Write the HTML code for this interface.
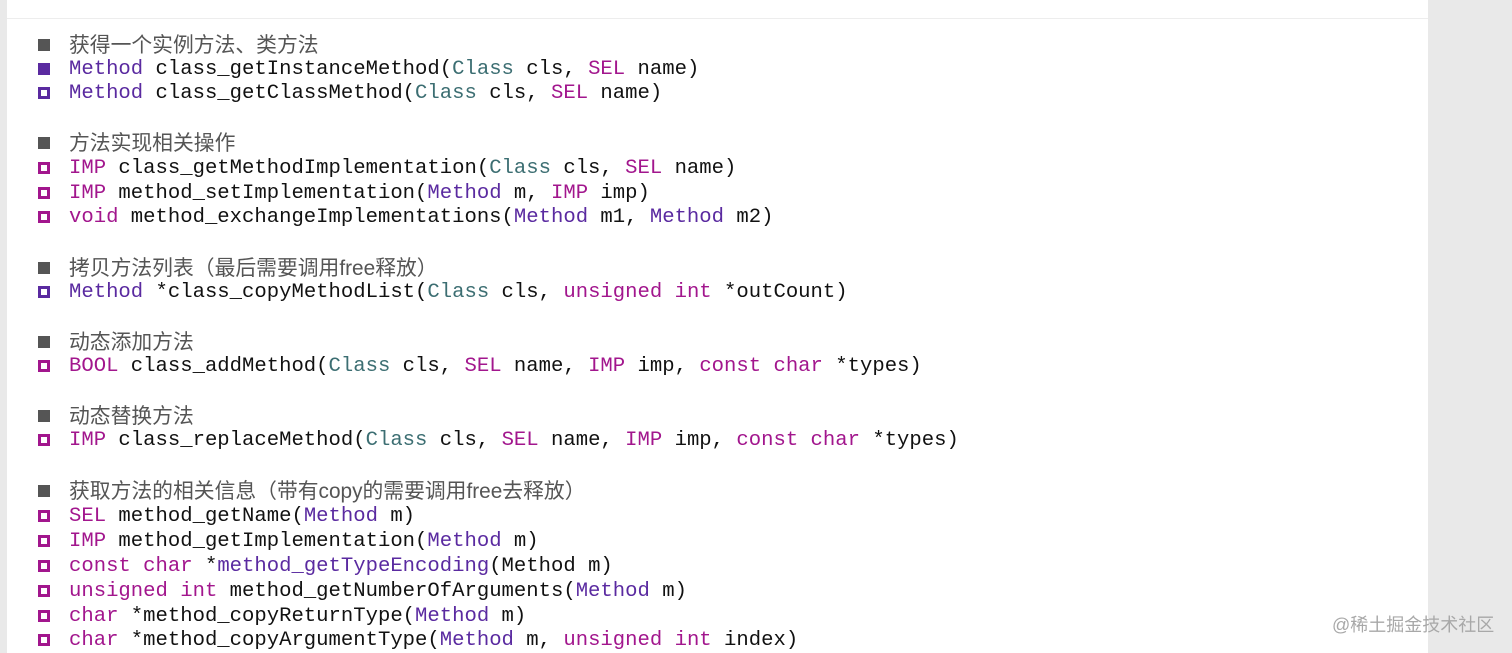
<!DOCTYPE html>
<html><head><meta charset="utf-8"><style>
body{margin:0;width:1512px;height:653px;background:#e9e9e9;position:relative;overflow:hidden}
#card{position:absolute;left:7px;top:0;width:1421px;height:653px;background:#fff}
#topline{position:absolute;left:7px;top:18px;width:1421px;height:1px;background:#ededed}
.l{position:absolute;left:0;height:25px;line-height:25px;white-space:pre;font-family:"Liberation Mono","Noto Sans CJK SC",monospace;font-size:20.6px;color:#111}
.l .t{position:absolute;left:69px;top:0}
.h .t{font-family:"Liberation Sans","Noto Sans CJK SC",sans-serif;font-size:20.8px;color:#555}
.b{position:absolute;left:38px;top:6px;width:12px;height:12px;box-sizing:border-box}
.hb{background:#555}
.pf{background:#5a2aa0}
.ph{border:3px solid #5a2aa0}
.mh{border:3px solid #a2168d}
.m{color:#a2168d}.p{color:#5a2aa0}.c{color:#3c6e72}
#wm{position:absolute;left:1332px;top:611px;font-family:"Liberation Sans","Noto Sans CJK SC",sans-serif;font-size:18px;color:#a8a8a8}
</style></head><body>
<div id="card"></div><div id="topline"></div>
<div class="l h" style="top:33px"><div class="b hb"></div><span class="t">获得一个实例方法、类方法</span></div>
<div class="l" style="top:57px"><div class="b pf"></div><span class="t"><span class="p">Method</span> class_getInstanceMethod(<span class="c">Class</span> cls, <span class="m">SEL</span> name)</span></div>
<div class="l" style="top:81px"><div class="b ph"></div><span class="t"><span class="p">Method</span> class_getClassMethod(<span class="c">Class</span> cls, <span class="m">SEL</span> name)</span></div>
<div class="l h" style="top:131px"><div class="b hb"></div><span class="t">方法实现相关操作</span></div>
<div class="l" style="top:156px"><div class="b mh"></div><span class="t"><span class="m">IMP</span> class_getMethodImplementation(<span class="c">Class</span> cls, <span class="m">SEL</span> name)</span></div>
<div class="l" style="top:181px"><div class="b mh"></div><span class="t"><span class="m">IMP</span> method_setImplementation(<span class="p">Method</span> m, <span class="m">IMP</span> imp)</span></div>
<div class="l" style="top:205px"><div class="b mh"></div><span class="t"><span class="m">void</span> method_exchangeImplementations(<span class="p">Method</span> m1, <span class="p">Method</span> m2)</span></div>
<div class="l h" style="top:256px"><div class="b hb"></div><span class="t">拷贝方法列表（最后需要调用free释放）</span></div>
<div class="l" style="top:280px"><div class="b ph"></div><span class="t"><span class="p">Method</span> *class_copyMethodList(<span class="c">Class</span> cls, <span class="m">unsigned</span> <span class="m">int</span> *outCount)</span></div>
<div class="l h" style="top:330px"><div class="b hb"></div><span class="t">动态添加方法</span></div>
<div class="l" style="top:354px"><div class="b mh"></div><span class="t"><span class="m">BOOL</span> class_addMethod(<span class="c">Class</span> cls, <span class="m">SEL</span> name, <span class="m">IMP</span> imp, <span class="m">const</span> <span class="m">char</span> *types)</span></div>
<div class="l h" style="top:404px"><div class="b hb"></div><span class="t">动态替换方法</span></div>
<div class="l" style="top:428px"><div class="b mh"></div><span class="t"><span class="m">IMP</span> class_replaceMethod(<span class="c">Class</span> cls, <span class="m">SEL</span> name, <span class="m">IMP</span> imp, <span class="m">const</span> <span class="m">char</span> *types)</span></div>
<div class="l h" style="top:479px"><div class="b hb"></div><span class="t">获取方法的相关信息（带有copy的需要调用free去释放）</span></div>
<div class="l" style="top:504px"><div class="b mh"></div><span class="t"><span class="m">SEL</span> method_getName(<span class="p">Method</span> m)</span></div>
<div class="l" style="top:529px"><div class="b mh"></div><span class="t"><span class="m">IMP</span> method_getImplementation(<span class="p">Method</span> m)</span></div>
<div class="l" style="top:554px"><div class="b mh"></div><span class="t"><span class="m">const</span> <span class="m">char</span> *<span class="p">method_getTypeEncoding</span>(Method m)</span></div>
<div class="l" style="top:579px"><div class="b mh"></div><span class="t"><span class="m">unsigned</span> <span class="m">int</span> method_getNumberOfArguments(<span class="p">Method</span> m)</span></div>
<div class="l" style="top:604px"><div class="b mh"></div><span class="t"><span class="m">char</span> *method_copyReturnType(<span class="p">Method</span> m)</span></div>
<div class="l" style="top:628px"><div class="b mh"></div><span class="t"><span class="m">char</span> *method_copyArgumentType(<span class="p">Method</span> m, <span class="m">unsigned</span> <span class="m">int</span> index)</span></div>
<div id="wm">@稀土掘金技术社区</div>
</body></html>
